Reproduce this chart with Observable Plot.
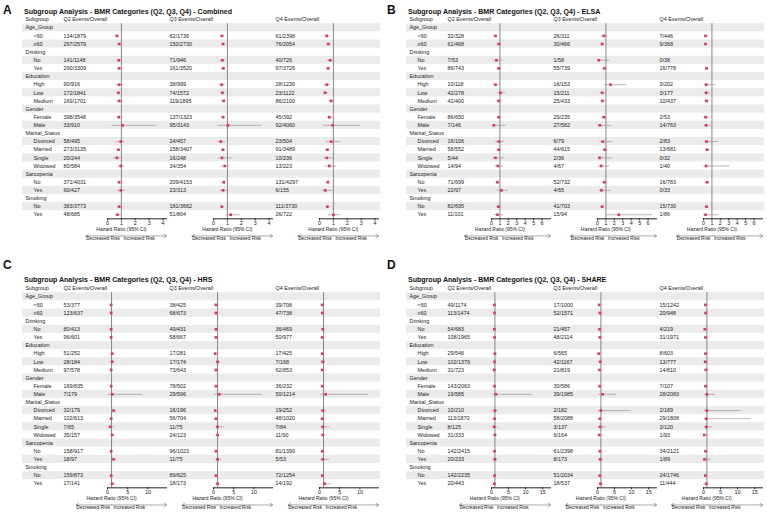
<!DOCTYPE html>
<html><head><meta charset="utf-8">
<script src="https://cdn.jsdelivr.net/npm/d3@7"></script>
<script src="https://cdn.jsdelivr.net/npm/@observablehq/plot@0.6"></script>
<style>
body{margin:0;background:#fff;font-family:"Liberation Sans",Arial,sans-serif;}
#root{position:relative;width:767px;height:513px;overflow:hidden;background:#fff;}
.letter{position:absolute;font-weight:bold;font-size:12px;line-height:14px;color:#111;}
.title{position:absolute;font-weight:bold;font-size:7.05px;line-height:9px;white-space:nowrap;color:#111;}
.panel{position:absolute;}
</style></head><body><div id="root"></div>
<script>
// ---------------- shared table structure ----------------
const groups = ["Age_Group","Drinking","Education","Gender","Marital_Status","Sarcopenia","Smoking"];
const levels = [["<60","≥60"],["No","Yes"],["High","Low","Medium"],["Female","Male"],["Divorced","Married","Single","Widowed"],["No","Yes"],["No","Yes"]];
const quartiles = ["Q2","Q3","Q4"];
const panelTitles = ["Combined","ELSA","HRS","SHARE"];
const panelLetters = ["A","B","C","D"];

// ---------------- A: Combined ----------------
const A_Q2_events = ["134/1879","297/2579","141/1148","290/3309","90/916","172/1841","169/1701","398/3548","33/910","58/495","273/3135","20/244","80/584","371/4031","60/427","383/3773","48/685"];
const A_Q2_hr = [0.68,0.84,0.82,0.84,0.84,0.79,0.84,0.82,1.10,0.96,0.79,0.68,0.96,0.84,0.96,0.84,0.72];
const A_Q2_lo = [0.56,0.73,0.67,0.73,0.60,0.66,0.70,0.73,0.34,0.68,0.68,0.43,0.76,0.74,0.72,0.74,0.52];
const A_Q2_hi = [0.83,0.97,1.00,0.96,1.18,0.95,1.00,0.93,3.55,1.24,0.92,1.12,1.22,0.95,1.30,0.96,1.02];
const A_Q3_events = ["82/1736","150/2730","71/946","161/3520","38/999","74/1572","119/1895","137/1323","95/3143","24/457","158/3407","16/248","34/354","209/4153","23/313","181/3662","51/804"];
const A_Q3_hr = [0.61,0.69,0.64,0.71,0.59,0.64,0.74,0.69,1.04,0.52,0.69,0.61,0.81,0.74,0.69,0.61,1.24];
const A_Q3_lo = [0.47,0.57,0.48,0.58,0.41,0.49,0.60,0.56,0.33,0.33,0.57,0.35,0.54,0.63,0.42,0.51,0.88];
const A_Q3_hi = [0.80,0.84,0.86,0.87,0.85,0.84,0.92,0.85,3.50,0.88,0.84,1.40,1.21,0.87,1.12,0.74,1.93];
const A_Q4_events = ["61/2398","76/2054","40/726","97/3726","28/1230","23/1122","86/2100","45/392","92/4060","23/504","91/3489","10/236","13/223","131/4297","6/155","111/3730","26/722"];
const A_Q4_hr = [0.53,0.64,0.76,0.62,0.53,0.41,0.84,0.71,0.95,0.84,0.57,0.53,0.71,0.60,0.41,0.57,1.00];
const A_Q4_lo = [0.40,0.50,0.53,0.50,0.35,0.26,0.66,0.52,0.29,0.50,0.45,0.28,0.40,0.50,0.18,0.46,0.64];
const A_Q4_hi = [0.70,0.82,1.07,0.77,0.80,0.64,1.07,0.97,2.96,1.53,0.72,1.02,1.25,0.72,0.95,0.71,1.55];

// ---------------- B: ELSA ----------------
const B_Q2_events = ["32/328","61/468","7/53","86/743","10/118","42/278","41/400","86/650","7/146","16/106","58/552","5/44","14/94","71/699","22/97","82/695","11/101"];
const B_Q2_hr = [0.47,0.87,0.59,0.87,0.47,1.07,0.87,0.87,0.28,0.87,0.87,0.47,0.75,0.71,1.19,0.83,0.71];
const B_Q2_lo = [0.30,0.64,0.18,0.66,0.25,0.72,0.60,0.66,0.10,0.50,0.63,0.10,0.40,0.52,0.70,0.62,0.35];
const B_Q2_hi = [0.74,1.18,1.34,1.14,0.90,1.66,1.27,1.14,1.70,1.50,1.19,1.60,1.40,0.97,2.00,1.10,1.42];
const B_Q3_events = ["26/311","30/466","1/58","55/739","16/153","15/211","25/433","29/235","27/582","6/79","44/615","2/36","4/67","52/732","4/65","41/703","15/94"];
const B_Q3_hr = [0.75,0.55,0.16,0.83,1.54,0.55,0.59,0.75,0.27,0.63,0.87,0.24,0.43,0.83,0.47,0.55,2.53];
const B_Q3_lo = [0.47,0.36,0.08,0.60,0.75,0.32,0.38,0.50,0.16,0.28,0.63,0.08,0.16,0.60,0.16,0.38,0.99];
const B_Q3_hi = [1.25,0.85,1.50,1.15,3.50,0.95,0.93,1.15,1.70,1.82,1.23,1.82,1.50,1.15,1.62,0.80,6.50];
const B_Q4_events = ["7/446","9/368","0/38","16/778","3/202","3/177","10/437","2/53","14/763","2/83","13/681","0/32","1/40","16/783","0/33","15/730","1/86"];
const B_Q4_hr = [0.24,0.24,NaN,0.36,0.32,0.32,0.36,0.24,0.30,0.36,0.43,NaN,0.32,0.43,NaN,0.36,0.24];
const B_Q4_lo = [0.10,0.10,NaN,0.20,0.10,0.10,0.18,0.05,0.12,0.10,0.22,NaN,0.04,0.24,NaN,0.20,0.03];
const B_Q4_hi = [0.55,0.52,NaN,0.62,1.50,0.83,0.75,0.75,0.90,1.74,0.80,NaN,3.10,0.72,NaN,0.62,1.82];

// ---------------- C: HRS ----------------
const C_Q2_events = ["53/377","123/637","80/413","96/601","51/252","28/184","97/578","169/835","7/179","32/179","102/613","7/65","35/157","158/917","18/97","159/873","17/141"];
const C_Q2_hr = [0.90,0.90,0.90,0.90,1.15,1.15,0.90,0.90,1.15,1.50,0.90,0.66,1.15,0.90,1.50,0.90,1.15];
const C_Q2_lo = [0.65,0.72,0.68,0.68,0.80,0.75,0.70,0.75,0.15,1.00,0.72,0.30,0.80,0.75,0.90,0.75,0.68];
const C_Q2_hi = [1.25,1.12,1.20,1.20,1.65,1.80,1.15,1.08,8.70,2.20,1.12,1.90,1.70,1.08,2.30,1.08,1.90];
const C_Q3_events = ["38/425","68/673","49/431","58/667","17/281","17/174","73/643","78/502","29/596","16/196","56/704","11/75","24/123","96/1023","11/75","89/625","18/173"];
const C_Q3_hr = [0.60,0.60,0.60,0.60,0.42,1.00,0.60,0.60,1.42,0.42,0.60,1.00,1.00,0.60,1.00,0.60,1.00];
const C_Q3_lo = [0.40,0.45,0.42,0.44,0.25,0.60,0.46,0.46,0.20,0.25,0.45,0.55,0.62,0.48,0.55,0.47,0.60];
const C_Q3_hi = [0.88,0.80,0.85,0.82,0.70,1.70,0.78,0.78,12.1,0.75,0.80,2.70,1.60,0.76,2.00,0.76,1.80];
const C_Q4_events = ["39/708","47/738","36/469","50/977","17/425","7/168","62/853","36/232","50/1214","19/252","48/1020","7/84","11/90","81/1390","5/53","72/1254","14/192"];
const C_Q4_hr = [0.67,0.67,0.83,0.67,0.67,0.83,0.67,0.67,1.50,0.83,0.67,0.83,0.83,0.67,0.83,0.67,1.25];
const C_Q4_lo = [0.45,0.50,0.56,0.48,0.40,0.40,0.50,0.46,0.30,0.45,0.48,0.35,0.45,0.52,0.30,0.52,0.67];
const C_Q4_hi = [0.98,0.90,1.20,0.92,1.10,1.50,0.90,0.98,12.2,1.70,0.92,2.50,1.60,0.86,2.50,0.86,2.90];

// ---------------- D: SHARE ----------------
const D_Q2_events = ["49/1174","113/1474","54/683","108/1965","29/546","102/1379","31/723","143/2063","19/585","10/210","113/1870","8/125","31/333","142/2415","20/233","142/2235","20/443"];
const D_Q2_hr = [0.85,0.90,0.85,0.90,1.00,0.90,0.80,0.90,1.30,1.00,0.90,0.80,1.00,0.90,1.00,0.90,0.85];
const D_Q2_lo = [0.60,0.70,0.60,0.70,0.60,0.70,0.50,0.72,0.40,0.50,0.70,0.35,0.65,0.72,0.60,0.72,0.50];
const D_Q2_hi = [1.20,1.15,1.20,1.15,1.60,1.15,1.30,1.12,12.0,2.00,1.15,1.80,1.55,1.12,1.70,1.12,1.45];
const D_Q3_events = ["17/1000","52/1571","21/457","48/2114","6/565","42/1167","21/819","30/586","39/1985","2/182","58/2088","3/137","6/164","61/2398","8/173","51/2034","18/537"];
const D_Q3_hr = [0.50,0.70,0.60,0.70,0.40,0.80,0.60,0.65,1.50,1.00,0.70,0.80,0.50,0.70,0.80,0.65,0.90];
const D_Q3_lo = [0.30,0.50,0.40,0.50,0.15,0.55,0.35,0.45,0.40,0.20,0.50,0.25,0.20,0.52,0.40,0.48,0.52];
const D_Q3_hi = [0.85,0.95,0.95,0.95,1.00,1.15,1.00,0.95,5.50,10.0,0.95,2.60,1.20,0.93,1.70,0.90,1.55];
const D_Q4_events = ["15/1242","20/948","4/219","31/1971","8/603","13/777","14/810","7/107","28/2083","2/169","29/1808","3/120","1/93","34/2121","1/89","24/1746","11/444"];
const D_Q4_hr = [0.55,0.60,0.40,0.60,0.60,0.50,0.70,0.60,1.00,1.00,0.80,0.80,0.20,0.60,0.30,0.55,0.80];
const D_Q4_lo = [0.30,0.35,0.15,0.40,0.25,0.25,0.40,0.25,0.30,0.20,0.30,0.25,0.05,0.40,0.05,0.35,0.40];
const D_Q4_hi = [1.00,1.00,1.20,0.90,1.40,1.00,1.30,1.40,3.50,11.0,14.0,2.60,1.50,0.90,2.20,0.85,1.60];

// axis settings per panel
const domainsMax = [4.25, 7.0, 14.6, 17.3];
const tickSets = [[0,1,2,3,4],[0,1,2,3,4,5,6],[0,5,10],[0,5,10,15]];

// ---------------- build rows ----------------
const rows = [];
groups.forEach((g, gi) => {
  rows.push({row: rows.length, label: g, type: "group"});
  levels[gi].forEach(l => rows.push({row: rows.length, label: l, type: "item"}));
});
const itemRows = rows.filter(r => r.type === "item");
const groupRows = rows.filter(r => r.type === "group");
const stripeRows = rows.filter(r => r.row % 2 === 0);
const lastRow = rows.length - 1;

const src = {
  A: {Q2:[A_Q2_events,A_Q2_hr,A_Q2_lo,A_Q2_hi],Q3:[A_Q3_events,A_Q3_hr,A_Q3_lo,A_Q3_hi],Q4:[A_Q4_events,A_Q4_hr,A_Q4_lo,A_Q4_hi]},
  B: {Q2:[B_Q2_events,B_Q2_hr,B_Q2_lo,B_Q2_hi],Q3:[B_Q3_events,B_Q3_hr,B_Q3_lo,B_Q3_hi],Q4:[B_Q4_events,B_Q4_hr,B_Q4_lo,B_Q4_hi]},
  C: {Q2:[C_Q2_events,C_Q2_hr,C_Q2_lo,C_Q2_hi],Q3:[C_Q3_events,C_Q3_hr,C_Q3_lo,C_Q3_hi],Q4:[C_Q4_events,C_Q4_hr,C_Q4_lo,C_Q4_hi]},
  D: {Q2:[D_Q2_events,D_Q2_hr,D_Q2_lo,D_Q2_hi],Q3:[D_Q3_events,D_Q3_hr,D_Q3_lo,D_Q3_hi],Q4:[D_Q4_events,D_Q4_hr,D_Q4_lo,D_Q4_hi]}
};

const root = document.getElementById("root");
const W = 383, ML = 107, MR = 4.7, MT = 9.2, MB = 28, ROW = 8.13;
const H = MT + MB + ROW * rows.length;
const FRAME_W = 59.1;
const font = '"Liberation Sans", Arial, sans-serif';

function makePanel(pi) {
  const id = panelLetters[pi];
  const ox = pi % 2 ? 384 : 0;
  const oy = pi >= 2 ? 268.7 : 0;
  const xMax = domainsMax[pi];
  const pxPerUnit = FRAME_W / xMax;
  const leftEnd = 1 - 35.5 / pxPerUnit;

  const data = [];
  quartiles.forEach(q => {
    const [ev, hr, lo, hi] = src[id][q];
    itemRows.forEach((r, k) => data.push({q, row: r.row, events: ev[k], hr: hr[k], lo: lo[k], hi: hi[k]}));
  });
  const ci = data.filter(d => Number.isFinite(d.hr));
  const qData = quartiles.map(q => ({q, head: q + " Events/Overall"}));
  const first = d => "Q2";

  const plot = Plot.plot({
    width: W, height: H,
    marginLeft: ML, marginRight: MR, marginTop: MT, marginBottom: MB,
    style: {fontFamily: font, fontSize: "5.4px", color: "#222", background: "transparent", overflow: "visible"},
    fx: {domain: quartiles, paddingInner: 0.443, paddingOuter: 0, axis: null},
    x: {domain: [0, xMax], ticks: tickSets[pi], tickFormat: d3.format("d"), tickSize: 2, tickPadding: 0.8, line: true, label: null},
    y: {domain: [lastRow + 0.5, -0.5], axis: null},
    marks: [
      Plot.rect(stripeRows, {fx: first, y1: d => d.row - 0.5, y2: d => d.row + 0.5, fill: "#ebebeb", insetLeft: -85, insetRight: -214}),
      Plot.ruleX(qData, {fx: "q", x: () => 1, stroke: "#6b6b6b", strokeWidth: 0.8}),
      Plot.ruleY(ci, {fx: "q", y: "row", x1: "lo", x2: "hi", stroke: "#9a9a9a", strokeWidth: 0.7}),
      Plot.dot(ci, {fx: "q", y: "row", x: "hr", symbol: "square", r: 1.5, fill: "#e0385a", stroke: "none"}),
      Plot.text(data, {fx: "q", y: "row", text: "events", frameAnchor: "left", dx: -44, textAnchor: "start"}),
      Plot.text(groupRows, {fx: first, y: "row", text: "label", frameAnchor: "left", dx: -82, textAnchor: "start"}),
      Plot.text(itemRows, {fx: first, y: "row", text: "label", frameAnchor: "left", dx: -74, textAnchor: "start"}),
      Plot.text(["Subgroup"], {fx: first, y: () => -1, text: d => d, frameAnchor: "left", dx: -82, dy: -0.8, textAnchor: "start"}),
      Plot.text(qData, {fx: "q", y: () => -1, text: "head", frameAnchor: "left", dx: -44, dy: -0.8, textAnchor: "start"}),
      Plot.text(qData, {fx: "q", x: () => 1, text: () => "Hazard Ratio (95% CI)", frameAnchor: "bottom", dy: 12, fontSize: 5}),
      Plot.arrow(qData, {fx: "q", x1: () => 1, x2: () => xMax, y1: () => lastRow, y2: () => lastRow, dy: 21.2, stroke: "#555", strokeWidth: 0.5, headLength: 9, headAngle: 70}),
      Plot.arrow(qData, {fx: "q", x1: () => 1, x2: () => leftEnd, y1: () => lastRow, y2: () => lastRow, dy: 21.2, stroke: "#555", strokeWidth: 0.5, headLength: 9, headAngle: 70}),
      Plot.text(qData, {fx: "q", x: () => 1, text: () => "Decreased Risk", frameAnchor: "bottom", dy: 21.6, dx: -1.5, textAnchor: "end", fontSize: 4.8}),
      Plot.text(qData, {fx: "q", x: () => 1, text: () => "Increased Risk", frameAnchor: "bottom", dy: 21.6, dx: 2, textAnchor: "start", fontSize: 4.8})
    ]
  });
  const wrap = document.createElement("div");
  wrap.className = "panel";
  wrap.style.left = ox + "px";
  wrap.style.top = (oy + 14) + "px";
  wrap.appendChild(plot);
  root.appendChild(wrap);

  const letter = document.createElement("div");
  letter.className = "letter";
  letter.textContent = id;
  letter.style.left = (ox + 3) + "px";
  letter.style.top = (oy + (pi >= 2 ? -11 : 3)) + "px";
  root.appendChild(letter);

  const title = document.createElement("div");
  title.className = "title";
  title.textContent = "Subgroup Analysis - BMR Categories (Q2, Q3, Q4) - " + panelTitles[pi];
  title.style.left = (ox + 24) + "px";
  title.style.top = (oy + 6.5) + "px";
  root.appendChild(title);
}
[0,1,2,3].forEach(makePanel);
</script>
</body></html>
